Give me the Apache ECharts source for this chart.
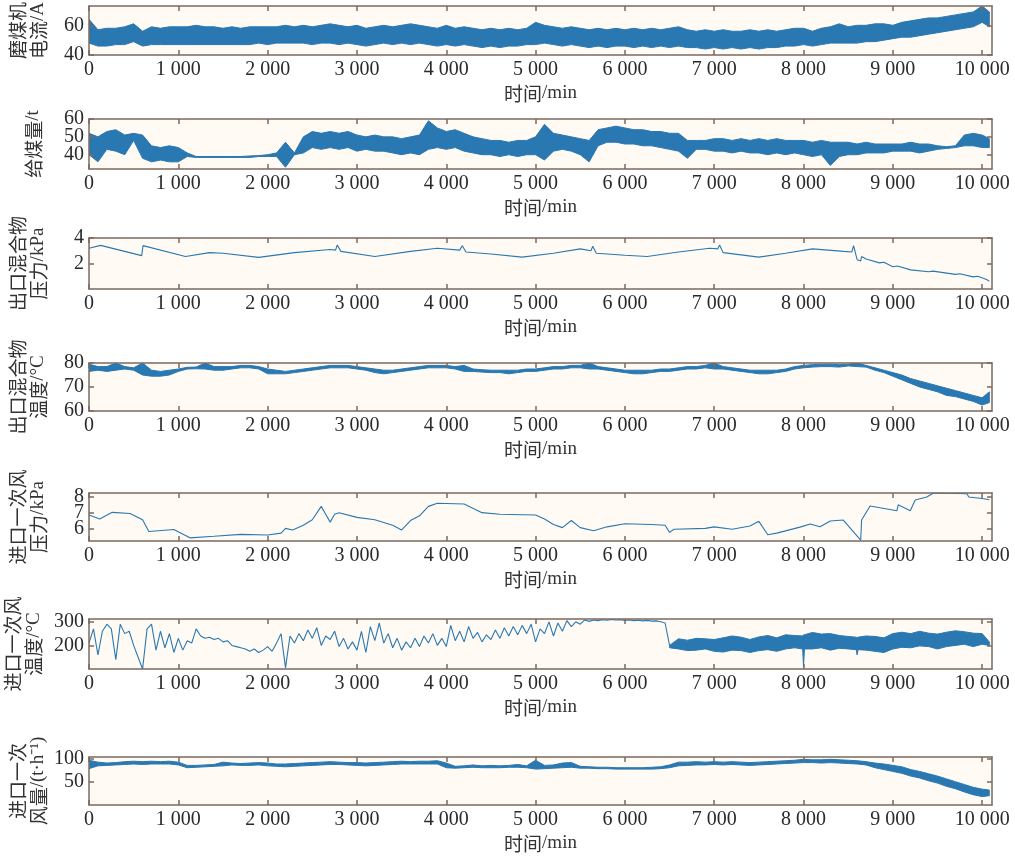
<!DOCTYPE html>
<html><head><meta charset="utf-8">
<script src="https://cdn.jsdelivr.net/npm/echarts@6/dist/echarts.min.js"></script>
<style>html,body{margin:0;padding:0;background:#fff}#c{width:1015px;height:860px}</style>
</head><body><div id="c"></div>
<script>
// ---------- data ----------
const xTickValues = [0,1000,2000,3000,4000,5000,6000,7000,8000,9000,10000];
const X_MAX = 10110;

// envelope grid (min): 0..10000 step 100, then 10080
const envTimes = [];
for (let i = 0; i <= 100; i++) envTimes.push(i * 100);
envTimes.push(10080);

// panel 1: mill current (A), band low / high
const currentLo = [
48,46,46,47,47,49,46,47,47,47,
47,47,47,47,47,47,47,47,47,48,
47,48,48,48,48,47,48,48,47,48,
47,46,47,48,47,48,47,48,47,46,
47,46,47,46,45,46,45,46,46,47,
47,48,47,46,47,46,45,46,45,46,
46,45,46,45,46,45,46,45,45,44,
45,44,45,44,45,44,45,45,46,46,
47,46,47,48,48,48,48,49,49,50,
51,52,52,53,54,55,56,57,58,59,
62,59];
const currentHi = [
64,57,58,58,59,61,56,59,58,59,
59,59,60,59,59,58,59,58,59,59,
59,59,60,59,60,59,60,61,60,59,
60,58,59,60,59,60,61,60,59,58,
60,58,59,58,57,58,57,58,57,58,
62,60,59,58,59,58,57,58,57,58,
57,58,57,58,57,58,59,57,56,57,
56,57,56,56,57,56,57,56,57,58,
58,56,58,59,61,59,60,60,61,61,
60,62,63,64,65,65,66,67,68,69,
73,69];

// panel 2: coal feed (t)
const coalLo = [
40,36,43,42,40,48,38,36,37,36,
36,39,38.5,38.5,38.5,38.5,38.5,38.5,38.5,39,
39,39,33,40,41,44,43,44,43,44,
42,43,42,42,41,40,41,40,43,44,
43,44,42,41,40,40,39,40,39,40,
40,37,42,43,42,40,36,45,47,47,
46,46,45,45,44,43,42,38,43,43,
42,42,41,42,41,41,40,41,40,41,
40,39,40,34,39,40,40,41,41,41,
42,42,42,41,42,43,43.5,44,45,45,
44,44];
const coalHi = [
52,50,53,54,51,52,51,45,44,45,
44,41,39,39,39,39,39,39,39.3,39.5,
40,41,47,41,50,53,52,53,52,53,
51,50,51,50,50,49,50,51,59,55,
53,54,52,50,49,48,48,47,48,48,
50,57,52,51,50,49,48,54,55,56,
55,54,54,53,53,52,52,48,48,48,
49,49,48,49,48,49,48,49,48,48,
48,47,48,47,47,47,46,47,46,46,
46,46,47,46,46,45,44.5,45,51,52,
51,49];

// panel 3: outlet mixture pressure (kPa)
const pressureTimes = [0,130,590,605,1080,1350,1500,1900,2300,2700,2760,2780,2820,3200,3600,3900,4150,4180,4220,4500,4850,5200,5500,5620,5640,5680,6000,6250,6600,6950,7040,7060,7100,7500,7800,8100,8450,8540,8560,8600,8640,8650,8700,8850,8900,9000,9050,9200,9400,9450,9700,9750,9900,9950,10050,10080];
const pressureVals  = [3.2,3.42,2.62,3.4,2.55,2.85,2.8,2.48,2.85,3.1,3.05,3.45,2.95,2.55,2.95,3.2,3.05,3.4,2.9,2.75,2.5,2.8,3.15,3.0,3.35,2.8,2.65,2.55,2.9,3.2,3.15,3.45,2.85,2.5,2.8,3.15,2.95,2.9,3.4,2.3,2.2,2.55,2.35,2.05,2.1,1.75,1.8,1.5,1.35,1.4,1.15,1.2,0.95,1.0,0.75,0.6];

// panel 4: outlet mixture temperature (°C)
const tempOutLo = [
76.5,77,76.5,77,77.5,77,75,74.5,74.5,75,
76.5,77.5,77.6,77.5,77,77,77.5,78,78,77.5,
75.5,75.5,75.5,76,76.5,77,77.5,78,78,78,
77.5,77,76,75.5,76,76.5,77,77.5,78,78,
78,77.5,76.5,76.5,76.2,76,76,75.5,76,76.5,
76.5,77,77.5,77.5,78,78,77.5,77.5,77,76.5,
76,75.5,75.5,76,76.5,76.5,77,77.5,77.5,78,
77.5,77.5,77,76.5,76,75.5,75.5,76,76.5,77.5,
78,78.3,78.5,78.5,78.3,78.8,78.5,78.3,77,76,
74.5,73,71.5,70,69,68,66.5,66,65,64,
62.5,63.5];
const tempOutHi = [
79.5,78.5,78.5,80,78.5,78,80,77,76.5,77,
77.5,78.2,78.3,80,78.5,78.5,78.5,79,79,78.5,
77.5,77,76.5,77,77.5,78,78.5,79,79,79,
78.5,78,77.5,77,77,77.5,78,78.5,79,79,
79,78.5,79,77.5,77.2,77,77,77,77,77.5,
77.5,78,78.5,78.5,79,79,80,78.5,78,77.5,
77,77,77,77,77.5,77.5,78,78.5,78.5,79,
80,78.5,78,77.5,77,77,77,77,77.5,78.5,
79,79.3,79.5,79.5,79.3,79.5,80,79,78,77,
76,75,73.5,72.5,71.5,70.5,69.5,68.5,67.5,66.5,
65.5,68];

// panel 5: inlet primary air pressure (kPa)
const airPresTimes = [0,120,260,460,600,670,950,1130,1400,1700,2000,2150,2200,2280,2400,2500,2600,2650,2700,2750,2800,3000,3200,3400,3500,3600,3700,3800,3900,4200,4400,4600,5000,5100,5200,5300,5400,5500,5650,5800,6000,6300,6450,6500,6550,6900,7000,7200,7400,7500,7600,7700,7960,8075,8185,8300,8445,8640,8650,8745,9045,9060,9195,9250,9380,9455,9830,9850,10000,10080];
const airPresVals  = [6.85,6.6,7.02,6.95,6.55,5.8,5.93,5.4,5.5,5.62,5.58,5.7,6.0,5.9,6.2,6.55,7.4,6.9,6.4,6.9,7.0,6.7,6.55,6.2,5.9,6.5,6.8,7.4,7.6,7.55,7.0,6.9,6.85,6.6,6.25,6.05,6.5,6.05,5.85,6.1,6.3,6.25,6.2,5.75,5.95,6.0,6.1,5.95,6.15,6.45,5.6,5.7,6.08,6.28,6.1,6.47,6.53,5.25,6.53,7.42,7.12,7.5,7.12,7.8,8.0,8.25,8.2,8.0,7.9,7.82];

// panel 6: inlet primary air temperature (°C)
// part A: line, every 50 min from 0 to 6500
const airTempTimes = [];
for (let i = 0; i <= 130; i++) airTempTimes.push(i * 50);
const airTempVals = [
210,270,160,260,290,270,140,290,250,260,200,150,100,270,290,180,260,190,250,170,
230,180,220,210,270,240,230,235,225,230,215,220,200,195,190,185,175,185,170,180,
195,175,210,250,105,240,210,250,220,265,230,275,200,240,225,260,195,230,185,215,
180,260,170,280,220,295,210,250,190,230,180,215,190,230,195,240,210,250,200,230,
195,285,220,260,215,280,230,255,215,245,225,265,230,275,240,280,245,285,250,290,
215,270,250,300,240,295,260,305,280,300,290,308,302,308,305,309,307,310,308,309,
306,308,305,307,304,306,303,304,300,295,200];
// part B: dense band from 6500 to the end
const airTempBandTimes = [6500,6600,6700,6800,6900,7000,7100,7200,7300,7400,7500,7600,7700,7800,7900,7990,8000,8010,8100,8200,8300,8400,8500,8590,8600,8610,8700,8800,8900,9000,9100,9200,9300,9400,9500,9600,9700,9800,9900,10000,10080];
const airTempBandLo = [190,185,178,180,185,175,172,180,178,170,178,182,175,185,190,185,110,185,185,190,180,188,185,182,160,182,180,175,170,185,192,190,198,195,185,195,200,205,195,205,200];
const airTempBandHi = [200,228,222,230,228,225,232,240,235,225,236,242,232,245,242,240,245,245,255,248,250,242,238,235,232,235,240,238,232,250,256,250,260,252,248,256,262,258,252,250,215];

// panel 7: inlet primary air flow (t/h)
const airFlowLo = [
78,84,85,86,87,88,87,88,88,88,
86,80,81,82,83,84,86,85,85,86,
84,83,82,83,84,85,86,87,87,86,
85,84,85,86,87,88,88,88,88,88,
80,79,80,81,80,80,80,81,81,80,
77,78,79,80,81,79,79,78,78,77,
77,77,77,77,78,80,84,85,86,86,
87,86,87,86,85,86,87,88,89,90,
91,91,90,91,90,89,88,86,80,76,
72,68,62,58,52,47,40,35,28,22,
18,20];
const airFlowHi = [
96,92,90,91,93,94,93,94,93,94,
92,85,85,86,87,92,90,89,90,91,
90,88,88,89,90,91,92,93,92,91,
91,90,91,92,93,94,93,94,94,95,
90,83,84,86,84,85,84,85,87,84,
96,85,86,90,91,83,82,81,81,80,
80,80,80,81,82,86,92,92,93,92,
93,92,93,92,91,92,93,94,95,96,
98,97,97,98,97,96,95,93,90,88,
85,82,76,72,67,62,56,50,44,38,
34,32];

// axis ranges and tick labels
const yRanges = [[40,73],[32,60],[0,4],[60,80],[5.2,8.25],[100,312],[0,103]];
const yTicks = [[40,60],[40,50,60],[2,4],[60,70,80],[6,7,8],[200,300],[50,100]];
const yNames = [
  '{z|磨煤机}\n{z|电流}{l|/A}',
  '{z|给煤量}{l|/t}',
  '{z|出口混合物}\n{z|压力}{l|/kPa}',
  '{z|出口混合物}\n{z|温度}{l|/°C}',
  '{z|进口一次风}\n{z|压力}{l|/kPa}',
  '{z|进口一次风}\n{z|温度}{l|/°C}',
  '{z|进口一次}\n{z|风量}{l|/(t·h⁻¹)}'
];
const xName = '{z|时间}{l|/min}';

// ---------- layout / style ----------
const layout = [
  {top:6, h:49},{top:119, h:50},{top:238, h:51},{top:363, h:48},
  {top:493, h:48},{top:619, h:50},{top:757, h:48}
];
const FRAME = '#7b6a5f', BLUE = '#2a78b2', TXT = '#2a2a2a', PLOTBG = '#fffbf4';
const SERIF = "'Liberation Serif','Noto Sans CJK SC',serif";
const rich = {
  z:{fontFamily:"'Noto Sans CJK SC'", fontSize:19, lineHeight:21, color:'#333'},
  l:{fontFamily:"'Liberation Serif'", fontSize:19, lineHeight:21, color:'#333'}
};
const fmtX = v => String(v).replace(/\B(?=(\d{3})+(?!\d))/g, ' ');
const lineStyleFrame = {color:FRAME, width:1.5};
const yLabelStyle = {margin:5, fontFamily:SERIF, fontSize:20, color:TXT,
  interval:0, showMinLabel:true, showMaxLabel:true, hideOverlap:false};

const grids = [], xAxes = [], yAxes = [], series = [];
layout.forEach((L, k) => {
  const r = yRanges[k];
  const labelsA = yTicks[k].filter((v,i) => i % 2 === 0);
  const labelsB = yTicks[k].filter((v,i) => i % 2 === 1);
  grids.push({left:89, width:903, top:L.top, height:L.h, show:true,
    backgroundColor:PLOTBG, borderWidth:0, outerBoundsMode:'none'});
  xAxes.push({gridIndex:k, type:'value', min:0, max:X_MAX, position:'bottom', z:10,
    axisLine:{show:true, onZero:false, lineStyle:lineStyleFrame},
    axisTick:{show:true, inside:true, length:5, customValues:xTickValues, lineStyle:lineStyleFrame},
    axisLabel:{customValues:xTickValues, formatter:fmtX, margin:5, fontFamily:SERIF, fontSize:20, color:TXT,
      interval:0, showMinLabel:true, showMaxLabel:true},
    splitLine:{show:false},
    name:xName, nameLocation:'middle', nameGap:28, nameTextStyle:{rich}});
  xAxes.push({gridIndex:k, type:'value', min:0, max:X_MAX, position:'top', z:10,
    axisLine:{show:true, onZero:false, lineStyle:lineStyleFrame},
    axisTick:{show:true, inside:true, length:5, customValues:xTickValues, lineStyle:lineStyleFrame},
    axisLabel:{show:false}, splitLine:{show:false}});
  // main left axis: frame, ticks, half of the labels, name
  yAxes.push({gridIndex:k, type:'value', min:r[0], max:r[1], position:'left', z:10,
    axisLine:{show:true, onZero:false, lineStyle:lineStyleFrame},
    axisTick:{show:true, inside:true, length:5, customValues:yTicks[k], lineStyle:lineStyleFrame},
    axisLabel:Object.assign({customValues:labelsA}, yLabelStyle),
    splitLine:{show:false},
    name:yNames[k], nameLocation:'middle', nameGap:(k===1?45:40), nameTextStyle:{rich}});
  // right mirror axis
  yAxes.push({gridIndex:k, type:'value', min:r[0], max:r[1], position:'right', z:10,
    axisLine:{show:true, onZero:false, lineStyle:lineStyleFrame},
    axisTick:{show:true, inside:true, length:5, customValues:yTicks[k], lineStyle:lineStyleFrame},
    axisLabel:{show:false}, splitLine:{show:false}});
  // second left axis carrying the other half of the labels (avoids auto-hiding of close labels)
  yAxes.push({gridIndex:k, type:'value', min:r[0], max:r[1], position:'left', offset:0, z:10,
    axisLine:{show:false, onZero:false}, axisTick:{show:false},
    axisLabel:Object.assign({show:labelsB.length > 0, customValues:labelsB.length ? labelsB : [r[0]]}, yLabelStyle),
    splitLine:{show:false}});
});

// band of a dense noisy signal: polygon between its low and high envelope, mapped by the axes
function band(k, ts, lo, hi) {
  series.push({type:'custom', coordinateSystem:'cartesian2d', xAxisIndex:2*k, yAxisIndex:3*k,
    silent:true, clip:true, z:2, data:[[ts[0], lo[0]]],
    renderItem: (params, api) => {
      const pts = [];
      for (let i = 0; i < ts.length; i++) pts.push(api.coord([ts[i], hi[i]]));
      for (let i = ts.length - 1; i >= 0; i--) pts.push(api.coord([ts[i], lo[i]]));
      return {type:'polygon', shape:{points:pts},
        style:{fill:BLUE, stroke:BLUE, lineWidth:1, lineJoin:'round'}};
    }});
}
function line(k, ts, vs) {
  series.push({type:'line', xAxisIndex:2*k, yAxisIndex:3*k, symbol:'none', silent:true,
    data: ts.map((t,i) => [t, vs[i]]), lineStyle:{color:BLUE, width:1.1}, z:4});
}
band(0, envTimes, currentLo, currentHi);
band(1, envTimes, coalLo, coalHi);
line(2, pressureTimes, pressureVals);
band(3, envTimes, tempOutLo, tempOutHi);
line(4, airPresTimes, airPresVals);
line(5, airTempTimes, airTempVals);
band(5, airTempBandTimes, airTempBandLo, airTempBandHi);
band(6, envTimes, airFlowLo, airFlowHi);

const chart = echarts.init(document.getElementById('c'), null, {renderer:'canvas'});
chart.setOption({animation:false, backgroundColor:'#fff', grid:grids, xAxis:xAxes, yAxis:yAxes, series});
</script></body></html>
